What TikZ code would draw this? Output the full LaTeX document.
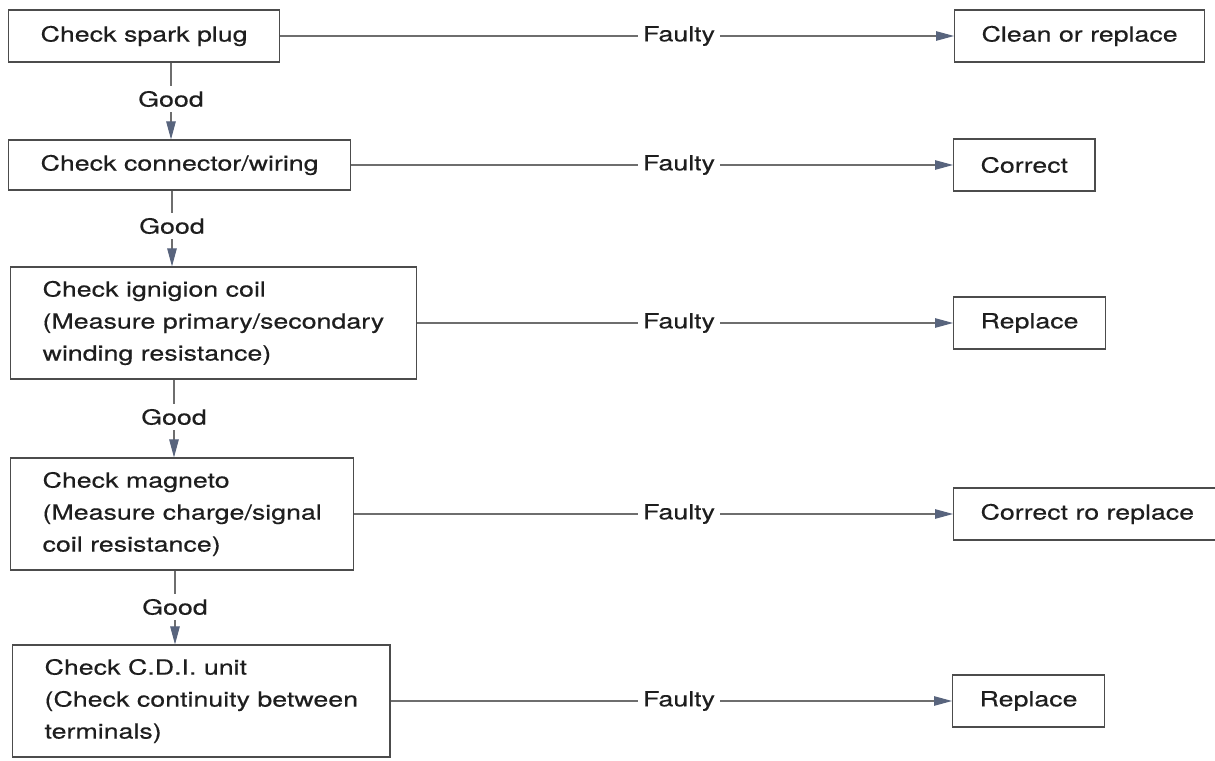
\documentclass[tikz,border=0pt]{standalone}
\usepackage{fontspec}
\setmainfont[FakeStretch=1.28, FakeBold=0.35]{TeX Gyre Heros}
\usetikzlibrary{arrows.meta}
\definecolor{tipblue}{RGB}{88,100,125}
\definecolor{linegray}{RGB}{110,110,110}
\definecolor{inkgray}{RGB}{30,30,30}
\tikzset{
  chk/.style={draw=black!70, line width=0.7pt, anchor=west, align=left,
    inner xsep=0.64cm, minimum height=1.04cm, text=inkgray},
  fix/.style={chk, inner xsep=0.54cm},
  lbl/.style={inner sep=0.1cm, text=inkgray},
  link/.style={draw=linegray, line width=0.6pt},
  arr/.style={link, -{Triangle[length=0.36cm, width=0.19cm, color=tipblue]}}
}
\begin{document}
\begin{tikzpicture}[x=0.02cm, y=-0.02cm, font=\fontsize{11.9}{18.2}\selectfont]
  \useasboundingbox (0,0) rectangle (1215,761);
  % checks down the left side
  \node[chk] (plug) at (8,36) {Check spark plug};
  \node[chk, minimum height=1cm] (wire) at (8,165) {Check connector/wiring};
  \node[chk, minimum height=2.24cm] (coil) at (10,323) {Check ignigion coil\\(Measure primary/secondary\\winding resistance)};
  \node[chk, minimum height=2.24cm] (mag) at (10,514) {Check magneto\\(Measure charge/signal\\coil resistance)};
  \node[chk, minimum height=2.24cm] (cdi) at (12,701) {Check C.D.I. unit\\(Check continuity between\\terminals)};
  % good labels between the checks
  \node[lbl] (g1) at (171,99) {Good};
  \node[lbl] (g2) at (172,226) {Good};
  \node[lbl] (g3) at (174,417) {Good};
  \node[lbl] (g4) at (175,607) {Good};
  % faulty labels
  \node[lbl] (f1) at (679,36) {Faulty};
  \node[lbl] (f2) at (679,165) {Faulty};
  \node[lbl] (f3) at (679,323) {Faulty};
  \node[lbl] (f4) at (679,514) {Faulty};
  \node[lbl] (f5) at (679,701) {Faulty};
  % remedies on the right
  \node[fix] (clean) at (954,36) {Clean or replace};
  \node[fix] (corr) at (953,165) {Correct};
  \node[fix] (repcoil) at (953,323) {Replace};
  \node[fix] (corrrep) at (953,514) {Correct ro replace};
  \node[fix] (repcdi) at (952,701) {Replace};
  % good path downwards
  \draw[link] (plug.south -| g1) -- (g1);
  \draw[arr] (g1) -- (g1 |- wire.north);
  \draw[link] (wire.south -| g2) -- (g2);
  \draw[arr] (g2) -- (g2 |- coil.north);
  \draw[link] (coil.south -| g3) -- (g3);
  \draw[arr] (g3) -- (g3 |- mag.north);
  \draw[link] (mag.south -| g4) -- (g4);
  \draw[arr] (g4) -- (g4 |- cdi.north);
  % faulty path to the right
  \draw[link] (plug) -- (f1);
  \draw[arr] (f1) -- (clean);
  \draw[link] (wire) -- (f2);
  \draw[arr] (f2) -- (corr);
  \draw[link] (coil) -- (f3);
  \draw[arr] (f3) -- (repcoil);
  \draw[link] (mag) -- (f4);
  \draw[arr] (f4) -- (corrrep);
  \draw[link] (cdi) -- (f5);
  \draw[arr] (f5) -- (repcdi);
\end{tikzpicture}
\end{document}
